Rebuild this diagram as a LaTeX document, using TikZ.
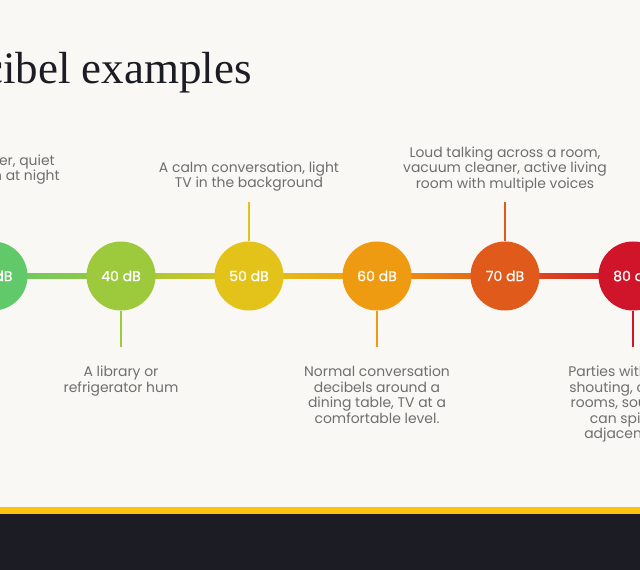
\documentclass[tikz,border=0pt]{standalone}
\usepackage{fontspec}
\setmainfont{Poppins}
\newfontfamily\headfont{Liberation Serif}
\newfontfamily\levelfont[FakeBold=0.5]{Poppins}
\usetikzlibrary{backgrounds}

\definecolor{paper}{HTML}{FAF8F4}
\definecolor{band}{HTML}{FDC40E}
\definecolor{navy}{HTML}{1C1C24}
\definecolor{ink}{HTML}{6E6E6E}
\definecolor{g30}{HTML}{62C96A}
\definecolor{g40}{HTML}{9DC93D}
\definecolor{g50}{HTML}{E3C31A}
\definecolor{g60}{HTML}{EF9B12}
\definecolor{g70}{HTML}{E05A1B}
\definecolor{g80}{HTML}{D0152B}

\tikzset{
  level/.style={circle, inner sep=0pt, minimum size=1.725cm, text=white,
    font=\levelfont\fontsize{10}{12}\selectfont},
  note/.style={align=center, inner sep=0pt, text=ink,
    font=\fontsize{9.9}{11}\selectfont},
  stem/.style={line width=1.4pt},
  headline/.style={anchor=base east, inner sep=0pt, text=navy,
    font=\headfont\fontsize{32}{36}\selectfont}
}

\begin{document}
\begin{tikzpicture}[x=0.025cm, y=-0.025cm]
	\useasboundingbox (0,0) rectangle (640,570);

	\node[headline] (head) at (252,84) {cibel examples};

	% the dB levels
	\node[level, fill=g30] (c30) at (-7,276) {30 dB};
	\node[level, fill=g40] (c40) at (121,276) {40 dB};
	\node[level, fill=g50] (c50) at (249,276) {50 dB};
	\node[level, fill=g60] (c60) at (377,276) {60 dB};
	\node[level, fill=g70] (c70) at (505,276) {70 dB};
	\node[level, fill=g80] (c80) at (633,276) {80 dB};

	% stem ends
	\coordinate (e40) at (121,347);
	\coordinate (e50) at (249,202);
	\coordinate (e60) at (377,347);
	\coordinate (e70) at (505,202);
	\coordinate (e80) at (633,347);

	% texts
	\node[note, anchor=south east, align=right] (t30) at (60,185)
		{er, quiet\hspace*{3.5pt}\\n at night};
	\node[note, anchor=north] (t40) at (121,366) {A library or\\refrigerator hum};
	\node[note, anchor=south] (t50) at (249,192)
		{A calm conversation, light\\TV in the background};
	\node[note, anchor=north] (t60) at (377,366)
		{Normal conversation\\decibels around a\\dining table, TV at a\\comfortable level.};
	\node[note, anchor=south] (t70) at (505,192)
		{Loud talking across a room,\\vacuum cleaner, active living\\room with multiple voices};
	\node[note, anchor=north west, align=left] (t80) at (568,366)
		{Parties with\\\hspace*{0.7pt}shouting, c\\\hspace*{1.7pt}rooms, sou\\\hspace*{15.4pt}can spi\\\hspace*{11.4pt}adjacent};

	\begin{pgfonlayer}{background}
		\fill[paper] (0,0) rectangle (640,507);
		\fill[band] (0,507) rectangle (640,514);
		\fill[navy] (0,514) rectangle (640,570);
		% gradient links
		\shade[left color=g30, right color=g40] ([yshift=1.8pt]c30.center) rectangle ([yshift=-1.8pt]c40.center);
		\shade[left color=g40, right color=g50] ([yshift=1.8pt]c40.center) rectangle ([yshift=-1.8pt]c50.center);
		\shade[left color=g50, right color=g60] ([yshift=1.8pt]c50.center) rectangle ([yshift=-1.8pt]c60.center);
		\shade[left color=g60, right color=g70] ([yshift=1.8pt]c60.center) rectangle ([yshift=-1.8pt]c70.center);
		\shade[left color=g70, right color=g80] ([yshift=1.8pt]c70.center) rectangle ([yshift=-1.8pt]c80.center);
		% stems
		\draw[stem, g40] (c40.south) -- (e40);
		\draw[stem, g50] (c50.north) -- (e50);
		\draw[stem, g60] (c60.south) -- (e60);
		\draw[stem, g70] (c70.north) -- (e70);
		\draw[stem, g80] (c80.south) -- (e80);
	\end{pgfonlayer}
\end{tikzpicture}
\end{document}
